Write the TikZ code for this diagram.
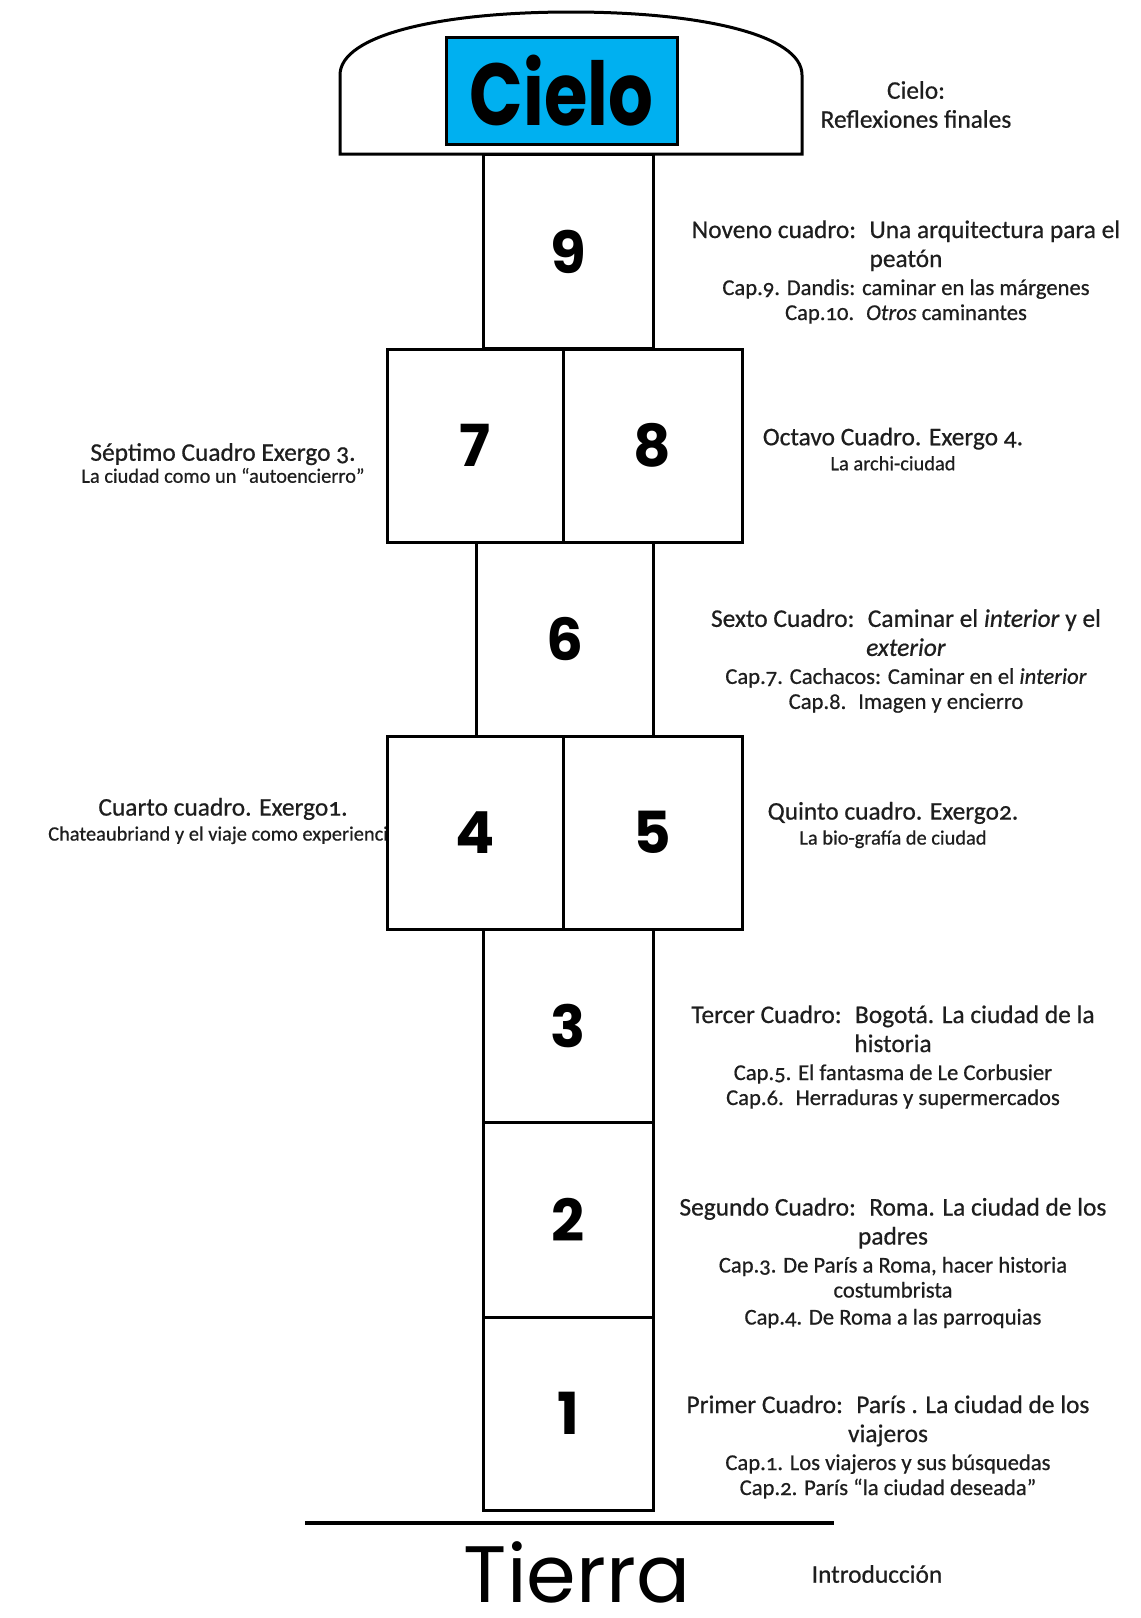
\documentclass[tikz,border=0pt]{standalone}
\usepackage{fontspec}
\usepackage{graphicx}
\setmainfont{Carlito}[Numbers=OldStyle,
                      UprightFeatures={FakeBold=0.6},
                      ItalicFeatures={FakeBold=0.6}]
\newfontfamily\comicfont{Poppins}
\definecolor{cielo-blue}{HTML}{00B0F0}
\definecolor{ink}{HTML}{1E1E1E}
\newcommand{\titfont}{\fontsize{12.7}{14.5}\selectfont}
\newcommand{\capfont}{\fontsize{11.3}{12.5}\selectfont}
\newcommand{\minifont}{\fontsize{10.2}{11}\selectfont}

\begin{document}
\begin{tikzpicture}[x=0.5pt, y=-0.5pt,
      every node/.style={inner sep=0pt},
      casilla/.style={draw=black, line width=1.5pt, fill=white,
                      minimum width=85pt, minimum height=97pt,
                      font=\comicfont\bfseries\fontsize{29}{29}\selectfont},
      etiqueta/.style={align=center, font=\capfont, text=ink}]

    \fill[white] (0,0) rectangle (1141,1618);

    % left labels (drawn first, box 4 hides the end of the second line)
    \node[etiqueta] (lab7) at (223,463) {{\titfont S\'eptimo Cuadro Exergo 3.}\\[-1.5pt]
          {\minifont La ciudad como un “autoencierro”}};
    \node[etiqueta] (lab4) at (223,821) {{\titfont Cuarto cuadro. Exergo1.}\\[0pt]
          {\minifont Chateaubriand y el viaje como experiencia}};

    % cielo (dome)
    \draw[line width=1.5pt, fill=white] (340,154) -- (340,75)
          .. controls (340,35) and (440,12) .. (571,12)
          .. controls (702,12) and (802,35) .. (802,75) -- (802,154) -- cycle;
    \node[draw=black, line width=1.5pt, fill=cielo-blue,
          minimum width=115.5pt, minimum height=53.5pt,
          font=\comicfont\bfseries\fontsize{44}{44}\selectfont] (cielo) at (561.5,90.5)
          {\scalebox{0.8}[1]{Cielo}};

    % casillas
    \node[casilla] (c9) at (568,251.5) {9};
    \node[casilla, minimum width=88pt, minimum height=96.5pt] (c7) at (475,445.5) {7};
    \node[casilla, minimum width=89.5pt, minimum height=96.5pt] (c8) at (652.5,445.5) {8};
    \node[casilla, minimum width=88.5pt] (c6) at (564.5,639) {6};
    \node[casilla, minimum width=88pt, minimum height=96.5pt] (c4) at (475,832.5) {4};
    \node[casilla, minimum width=89.5pt, minimum height=96.5pt] (c5) at (652.5,832.5) {5};
    \node[casilla, minimum height=96.5pt] (c3) at (568,1025.5) {3};
    \node[casilla, minimum height=97.5pt] (c2) at (568,1219.5) {2};
    \node[casilla, minimum height=96.5pt] (c1) at (568,1413.5) {1};

    % tierra
    \draw[line width=2pt] (305,1523) -- (834,1523);
    \node[font=\comicfont\fontsize{40}{40}\selectfont] (tierra) at (577,1572) {Tierra};

    % right labels
    \node[etiqueta, font=\titfont] (labcielo) at (916,104.5) {Cielo:\\Reflexiones finales};
    \node[etiqueta] (lab9) at (906,272) {{\titfont Noveno cuadro:~ Una arquitectura para el}\\[2pt]
          {\titfont peat\'on}\\[1.5pt]
          Cap.9. Dandis: caminar en las m\'argenes\\
          Cap.10.~ \textit{Otros} caminantes};
    \node[etiqueta] (lab8) at (893,449) {{\titfont Octavo Cuadro. Exergo 4.}\\[0pt]
          {\minifont La archi-ciudad}};
    \node[etiqueta] (lab6) at (906,661) {{\titfont Sexto Cuadro:~ Caminar el \textit{interior} y el}\\[2pt]
          {\titfont \textit{exterior}}\\[1.5pt]
          Cap.7. Cachacos: Caminar en el \textit{interior}\\
          Cap.8.~ Imagen y encierro};
    \node[etiqueta] (lab5) at (893,825) {{\titfont Quinto cuadro. Exergo2.}\\[0pt]
          {\minifont La bio-graf\'ia de ciudad}};
    \node[etiqueta] (lab3) at (893,1057) {{\titfont Tercer Cuadro:~ Bogot\'a. La ciudad de la}\\[2pt]
          {\titfont historia}\\[1.5pt]
          Cap.5. El fantasma de Le Corbusier\\
          Cap.6.~ Herraduras y supermercados};
    \node[etiqueta] (lab2) at (893,1263) {{\titfont Segundo Cuadro:~ Roma. La ciudad de los}\\[2pt]
          {\titfont padres}\\[1.5pt]
          Cap.3. De Par\'is a Roma, hacer historia\\
          costumbrista\\[1pt]
          Cap.4. De Roma a las parroquias};
    \node[etiqueta] (lab1) at (888,1447) {{\titfont Primer Cuadro:~ Par\'is . La ciudad de los}\\[2pt]
          {\titfont viajeros}\\[1.5pt]
          Cap.1. Los viajeros y sus b\'usquedas\\
          Cap.2. Par\'is “la ciudad deseada”};
    \node[etiqueta, font=\titfont] (lab0) at (877,1574) {Introducci\'on};
\end{tikzpicture}
\end{document}
